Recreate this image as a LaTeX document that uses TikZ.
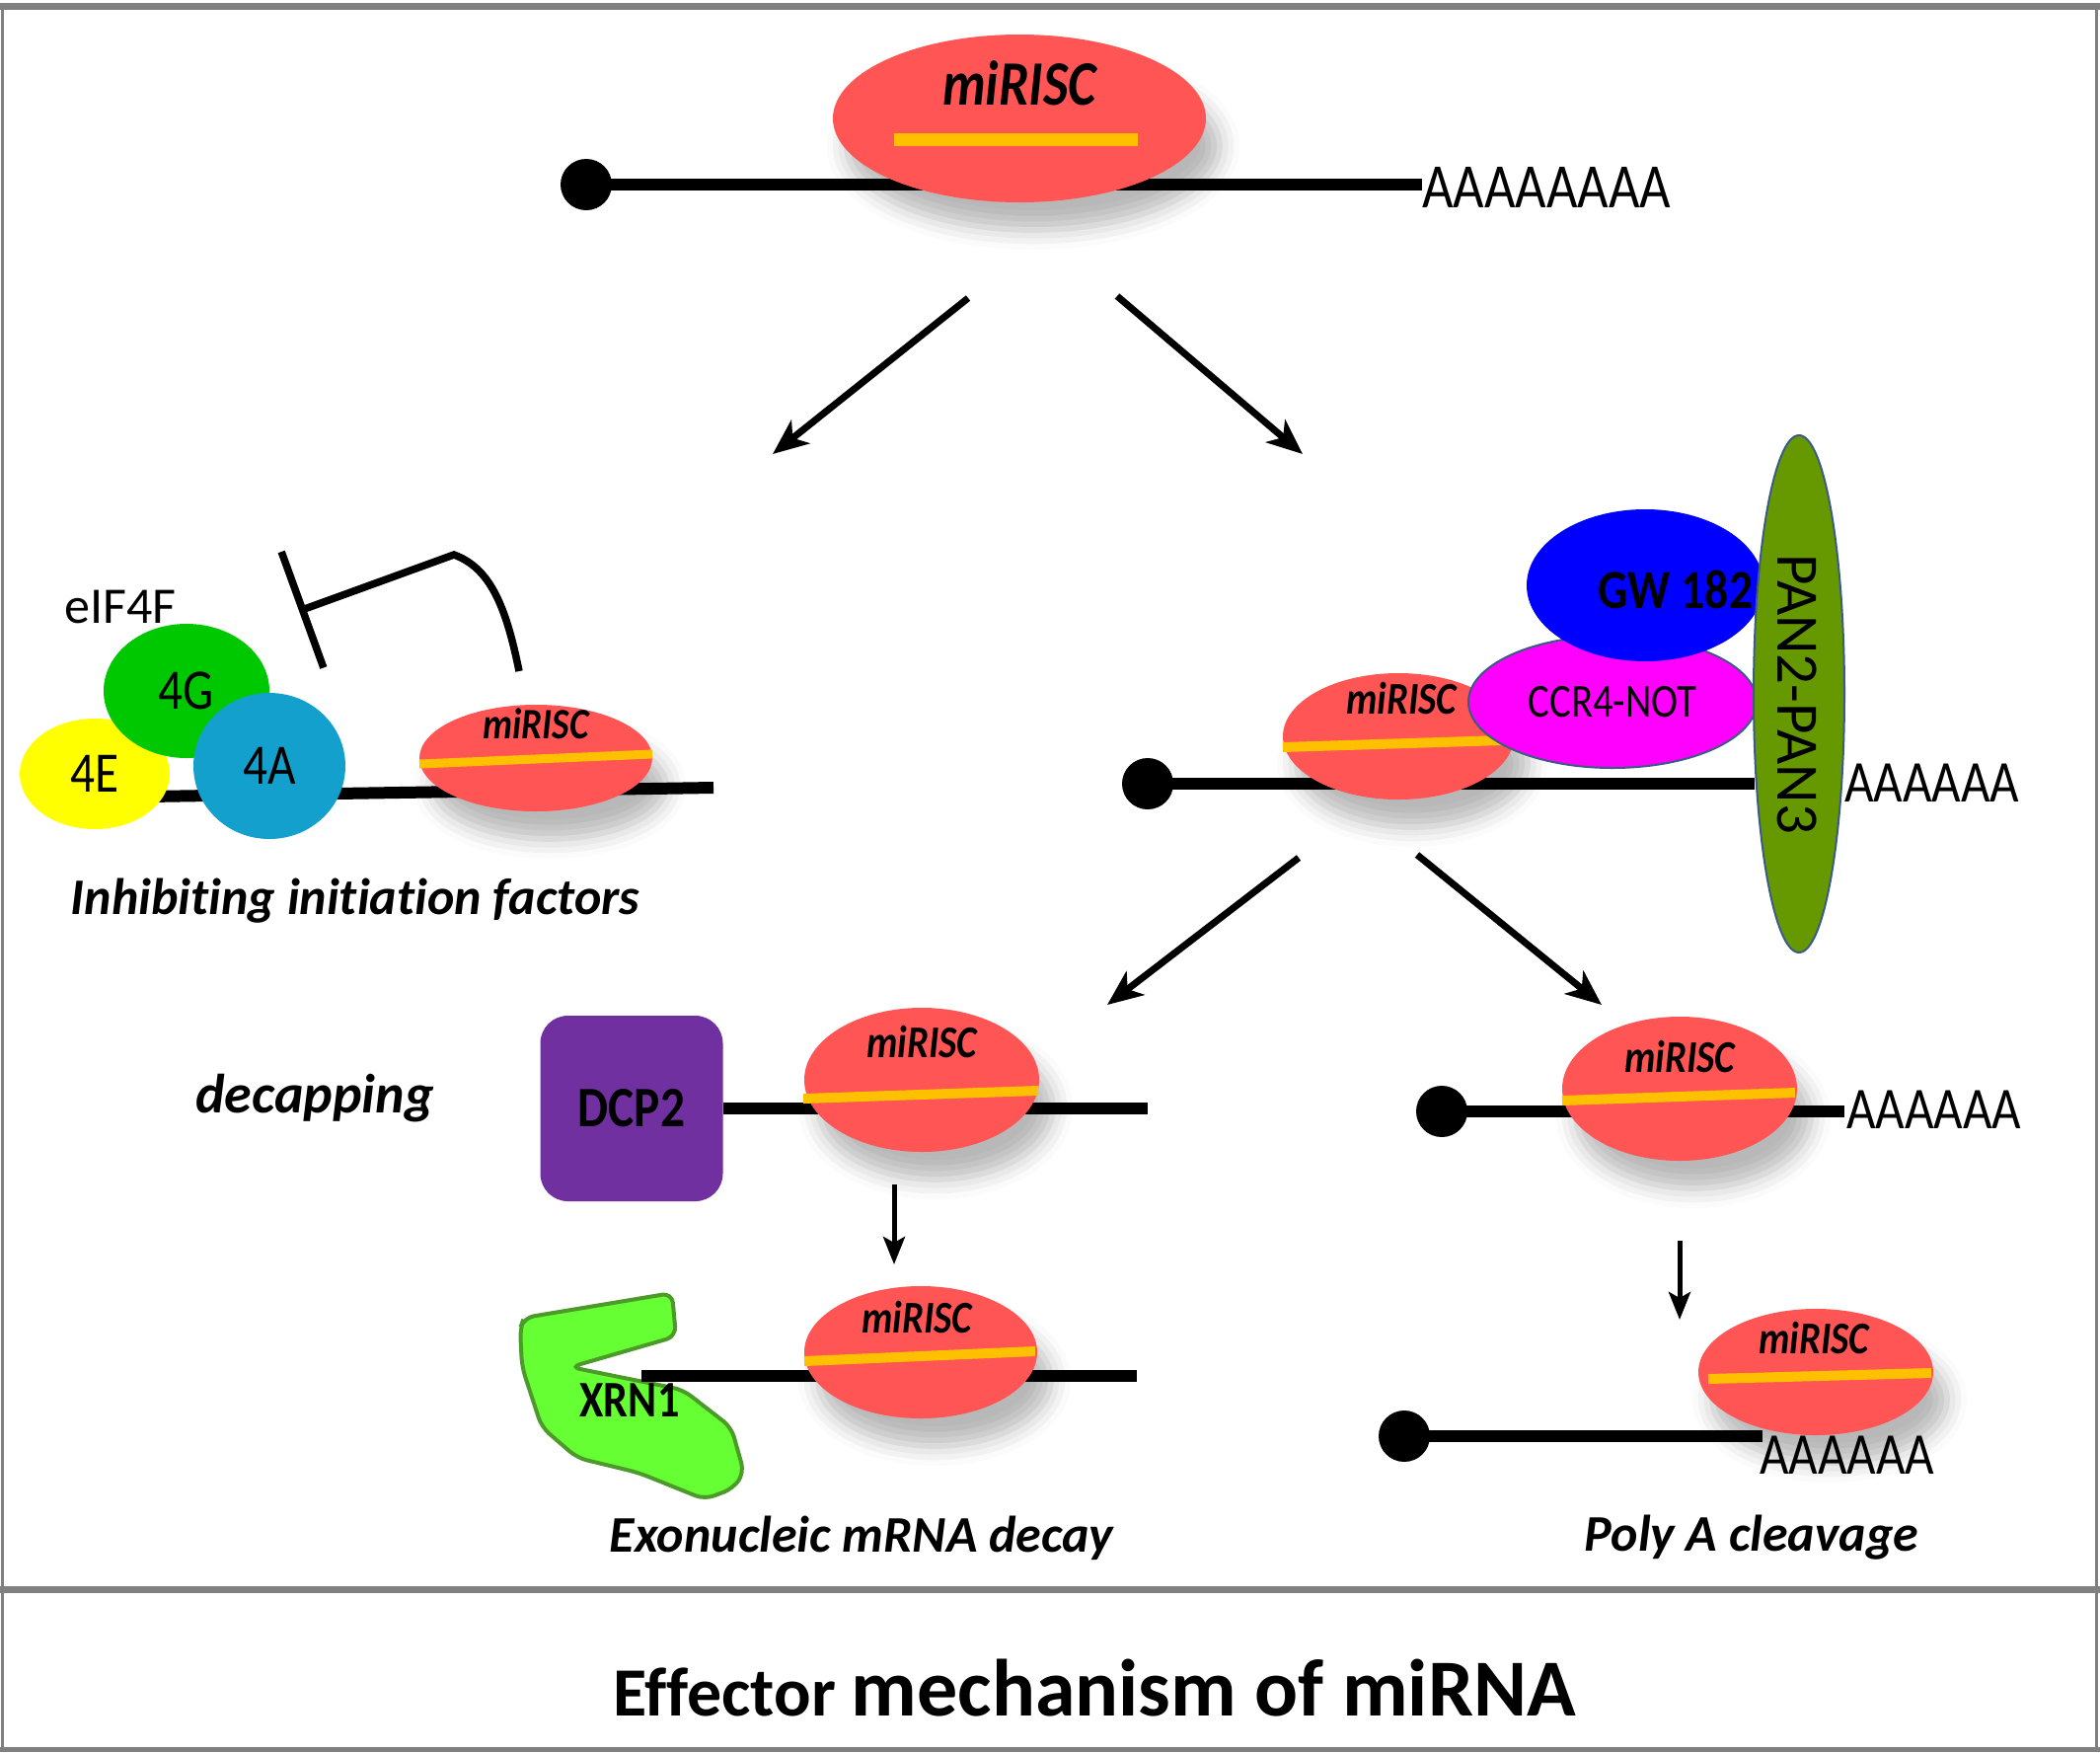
\documentclass[tikz,border=0pt]{standalone}
\usepackage{fontspec}
\setmainfont[Ligatures=NoCommon]{Carlito}
\newfontfamily\narrow[FakeStretch=0.85,Ligatures=NoCommon]{Carlito}
\usetikzlibrary{shapes.geometric,arrows.meta,shadows.blur}
\newcommand{\fsz}[1]{\fontsize{#1}{#1}\selectfont}
\definecolor{risc}{HTML}{FF5555}
\definecolor{guide}{HTML}{FFC000}
\definecolor{eifE}{HTML}{FFFF00}
\definecolor{eifG}{HTML}{00C800}
\definecolor{eifA}{HTML}{14A0CD}
\definecolor{gwblue}{HTML}{0000FF}
\definecolor{ccrmag}{HTML}{FF00FF}
\definecolor{panolive}{HTML}{669900}
\definecolor{dcppurple}{HTML}{7030A0}
\definecolor{xrngreen}{HTML}{66FF33}
\definecolor{xrnedge}{HTML}{4C9A2A}
\definecolor{framegray}{HTML}{808080}
\definecolor{rim}{HTML}{3B5A86}
\begin{document}
\begin{tikzpicture}[x=1pt,y=-1pt,
  ris/.style={ellipse,fill=risc,inner sep=0pt,
    blur shadow={shadow xshift=14pt,shadow yshift=-28pt,shadow blur radius=20pt,shadow opacity=28}},
  rna/.style={line width=12pt},
  capdot/.style={circle,fill=black,minimum size=52pt,inner sep=0pt},
  polyA/.style={anchor=west,inner sep=0pt},
  factor/.style={ellipse,inner sep=0pt,font=\narrow\fsz{58}},
  rimmed/.style={ellipse,draw=rim,line width=2pt,inner sep=0pt},
  bigarr/.style={line width=7pt,-{Stealth[length=36pt,width=30pt,inset=10pt]}},
  smallarr/.style={line width=5pt,-{Stealth[length=28pt,width=22pt,inset=6pt]}},
  caption/.style={font=\bfseries\itshape\fsz{52},inner sep=0pt}]
\useasboundingbox (0,0) rectangle (2128,1775);

% frame
\draw[framegray,line width=7pt] (0,6) -- (2128,6);
\draw[framegray,line width=7pt] (0,1610) -- (2128,1610);
\draw[framegray,line width=5pt] (0,1772) -- (2128,1772);
\draw[framegray,line width=3pt] (2,6) -- (2,1772);
\draw[framegray,line width=3pt] (2124,6) -- (2124,1772);

% capped mRNAs
\foreach \n/\x/\y/\e/\tx/\ty/\s/\a in {
0/594/187/1441/1441/190/64/AAAAAAAA,%
2/1163/794/1778/1869/793/60/AAAAAA,%
5/1461/1126/1869/1871/1124/60/AAAAAA,%
6/1423/1455/1786/1783/1474/60/AAAAAA%
}{
  \node[capdot] (cap\n) at (\x,\y) {};
  \coordinate (end\n) at (\e,\y);
  \draw[rna] (cap\n.center) -- (end\n);
  \node[polyA,font=\narrow\fsz{\s}] (pa\n) at (\tx,\ty) {\a};
}

% initiation factors
\coordinate (lineL) at (150,807);
\coordinate (lineR) at (723,798);
\draw[rna] (lineL) -- (lineR);
\node[font=\fsz{52}] (eif) at (122,615) {eIF4F};
\node[factor,fill=eifE,minimum width=152pt,minimum height=112pt] (e4E) at (96,784) {4E};
\node[factor,fill=eifG,minimum width=168pt,minimum height=136pt] (e4G) at (189,700) {4G};
\node[factor,fill=eifA,minimum width=154pt,minimum height=148pt] (e4A) at (273,776) {4A};
\coordinate (inhS) at (526,680);
\coordinate (inhK) at (460,562);
\coordinate (inhE) at (303,619);
\draw[line width=7.5pt,-{Bar[width=125pt]}] (inhS) .. controls (512,610) and (495,575) .. (inhK) -- (inhE);

% decapping
\node[rectangle,rounded corners=28pt,fill=dcppurple,minimum width=185pt,minimum height=188pt,
  font=\narrow\bfseries\fsz{58}] (dcp) at (640,1123) {DCP2};
\coordinate (decE) at (1163,1123);
\draw[rna] (dcp.east) -- (decE);

% exonuclease
\draw[fill=xrngreen,draw=xrnedge,line width=4pt,rounded corners=10pt]
  (531,1335) -- (681,1310) -- (685,1354) -- (578,1385) -- (692,1408) -- (741,1446)
  -- (754,1492) -- (743,1508) -- (714,1519) -- (647,1492) -- (585,1477) -- (549,1446)
  -- (529,1385) -- (527,1346) -- cycle;
\node[font=\narrow\bfseries\fsz{52}] (xrn) at (638,1419) {XRN1};
\coordinate (nib) at (650,1394);
\coordinate (xrnE) at (1152,1394);
\draw[rna] (nib) -- (xrnE);

% miRISC complexes
\foreach \n/\x/\y/\w/\h/\lx/\ly/\ax/\ay/\bx/\by/\fsize/\bw in {
r0/1033/120/378/170/0/-36/-127/21/120/21/64/13,%
r1/543/768/236/108/0/-35/-118/6/118/-4/44/9,%
r2/1417/746/234/128/3/-38/-117/11/106/4/46/10,%
r3/934/1094/238/146/0/-38/-120/19/118/11/46/10,%
r4/933/1370/236/134/-4/-35/-118/9/116/-1/46/10,%
r5/1702/1103/238/146/0/-32/-119/12/117/4/46/10,%
r6/1840/1390/238/128/-2/-34/-109/7/117/1/46/10%
}{
  \node[ris,minimum width=\w pt,minimum height=\h pt] (\n) at (\x,\y) {};
  \node[font=\narrow\bfseries\itshape\fsz{\fsize},inner sep=0pt] (\n lbl) at ([shift={(\lx,\ly)}]\n.center) {miRISC};
  \draw[guide,line width=\bw pt] ([shift={(\ax,\ay)}]\n.center) -- ([shift={(\bx,\by)}]\n.center);
}

% deadenylation complex
\node[rimmed,fill=ccrmag,minimum width=292pt,minimum height=134pt,font=\narrow\fsz{48}] (ccr) at (1634,711) {CCR4-NOT};
\node[rimmed,draw=none,fill=gwblue,minimum width=240pt,minimum height=154pt] (gw) at (1667,593) {};
\node[font=\narrow\bfseries\fsz{56}] (gwlbl) at (1698,597) {GW 182};
\node[rimmed,fill=panolive,minimum width=92pt,minimum height=524pt] (pan) at (1823,703) {};
\node[rotate=-90,font=\fsz{61}] (panlbl) at (1821,703) {PAN2-PAN3};

% arrows
\foreach \i/\sx/\sy/\ex/\ey in {1/981/302/783/460, 2/1132/300/1320/460, 3/1316/869/1122/1018, 4/1436/866/1623/1018}{
  \coordinate (s\i) at (\sx,\sy);
  \coordinate (t\i) at (\ex,\ey);
  \draw[bigarr] (s\i) -- (t\i);
}
\foreach \i/\x/\sy/\ey in {5/906/1200/1281, 6/1702/1257/1337}{
  \coordinate (s\i) at (\x,\sy);
  \coordinate (t\i) at (\x,\ey);
  \draw[smallarr] (s\i) -- (t\i);
}

% labels
\node[caption] (inhlbl) at (360,913) {Inhibiting initiation factors};
\node[caption,font=\bfseries\itshape\fsz{56}] (declbl) at (319,1113) {decapping};
\node[caption] (exolbl) at (873,1558) {Exonucleic mRNA decay};
\node[caption] (polylbl) at (1775,1558) {Poly A cleavage};
\node[font=\bfseries,anchor=base,inner sep=0pt] (title) at (1109,1738) {\fsz{70}Effector \fsz{82}mechanism of miRNA};
\end{tikzpicture}
\end{document}
